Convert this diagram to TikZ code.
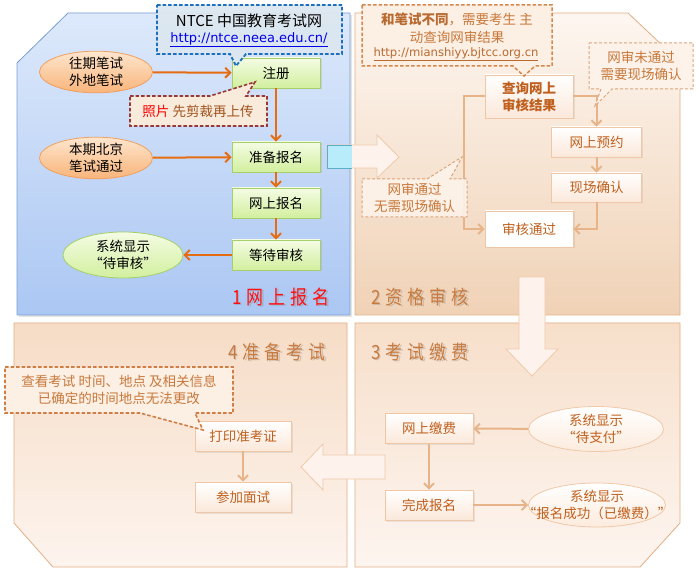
\documentclass[tikz,border=0pt]{standalone}
\usepackage{fontspec}
\setmainfont{Noto Sans CJK SC}
\newfontfamily\urlfont{DejaVu Sans}
\usetikzlibrary{arrows.meta,shapes.geometric,shadows}
\newcommand\hxcol[1]{\definecolor{Hex#1}{HTML}{#1}}
\hxcol{FBE8DA}\hxcol{EFC7A6}\hxcol{FEE6CE}\hxcol{F9B47A}\hxcol{F0A060}\hxcol{FCEBDD}
\hxcol{EFC8A8}\hxcol{FDF3EC}\hxcol{F0C8A8}\hxcol{DDE9FB}\hxcol{ABC7F3}\hxcol{FDF6F0}
\hxcol{F0D2B6}\hxcol{F7DFCA}\hxcol{FDF5F0}\hxcol{F6DCC6}\hxcol{FDF4EE}\hxcol{B8ECFA}
\hxcol{5AB0C8}\hxcol{DCE7F0}\hxcol{1F6FBF}\hxcol{0000EE}\hxcol{F9EBDC}\hxcol{983838}
\hxcol{A0521E}\hxcol{FCEFE4}\hxcol{D5874C}\hxcol{B86A30}\hxcol{FDF3EA}\hxcol{DCA47A}
\hxcol{CF7F45}\hxcol{FF1010}
\definecolor{pOne}{HTML}{7A9ED4}
\definecolor{pPeach}{HTML}{E2AE84}
\definecolor{gTop}{HTML}{F4FCE4}
\definecolor{gBot}{HTML}{D2EF9E}
\definecolor{gLine}{HTML}{A6CF6A}
\definecolor{oArrow}{HTML}{E66C12}
\definecolor{pConn}{HTML}{E7B48A}
\definecolor{pText}{HTML}{C0601E}
\definecolor{cText}{HTML}{C8783A}
\definecolor{tText}{HTML}{C97B3F}
\newcommand\ttl[5]{\scalebox{1}[1.15]{#1\hspace{5pt}#2\hspace{5pt}#3\hspace{5pt}#4\hspace{5pt}#5}}
\begin{document}
\begin{tikzpicture}[x=1pt,y=-1pt,
  every node/.style={font=\fontsize{13.5}{17}\selectfont, align=center, inner sep=0pt},
  greenbox/.style={rectangle, minimum width=88pt, minimum height=30pt, top color=gTop, bottom color=gBot, draw=gLine, line width=0.8pt, drop shadow={opacity=0.18,shadow xshift=1.5pt,shadow yshift=-1.5pt}},
  peachbox/.style={rectangle, minimum width=88pt, minimum height=30pt, top color=white, bottom color=HexFBE8DA, draw=HexEFC7A6, line width=0.8pt, text=pText, drop shadow={opacity=0.15,shadow xshift=1.5pt,shadow yshift=-1.5pt}},
  orell/.style={ellipse, minimum width=113pt, minimum height=40pt, top color=HexFEE6CE, bottom color=HexF9B47A, draw=HexF0A060, line width=0.8pt},
  grell/.style={ellipse, minimum width=120pt, minimum height=46pt, top color=gTop, bottom color=gBot, draw=gLine, line width=0.8pt},
  peell/.style={ellipse, minimum width=135pt, minimum height=45pt, top color=white, bottom color=HexFCEBDD, draw=HexEFC8A8, line width=0.8pt, text=pText},
  oconn/.style={draw=oArrow, line width=2pt, -{Straight Barb[length=5pt,width=10pt]}},
  pconn/.style={draw=pConn, line width=2pt, -{Straight Barb[length=5pt,width=10pt]}},
  title/.style={font=\fontsize{17}{20}\selectfont},
  bigarrow/.style={fill=HexFDF3EC, draw=HexF0C8A8, line width=0.8pt},
]
\useasboundingbox (0,0) rectangle (699,577);
\fill[white] (0,0) rectangle (699,577);

% panels
\path[drop shadow={opacity=0.2,shadow xshift=2pt,shadow yshift=-2pt}, top color=HexDDE9FB, bottom color=HexABC7F3, draw=pOne, line width=0.8pt]
  (17,63) -- (68,13) -- (350,13) -- (350,315) -- (17,315) -- cycle;
\path[top color=HexFDF6F0, bottom color=HexF0D2B6, draw=pPeach, line width=0.8pt]
  (355,13) -- (628,13) -- (680,62) -- (680,315) -- (355,315) -- cycle;
\path[top color=HexF7DFCA, bottom color=HexFDF5F0, draw=pPeach, line width=0.8pt]
  (355,323) -- (680,323) -- (680,523) -- (640,567) -- (355,567) -- cycle;
\path[top color=HexF6DCC6, bottom color=HexFDF4EE, draw=pPeach, line width=0.8pt]
  (14,323) -- (347,323) -- (347,567) -- (53,567) -- (14,523) -- cycle;

% big arrows
\path[bigarrow] (327,145) -- (377,145) -- (377,135) -- (399,157) -- (377,178) -- (377,168) -- (327,168) -- cycle;
\path[fill=HexB8ECFA, draw=Hex5AB0C8, line width=0.8pt] (352,145) -- (327,145) -- (327,168) -- (352,168);
\path[bigarrow] (519,277) -- (545,277) -- (545,349) -- (558,349) -- (532,376) -- (506,349) -- (519,349) -- cycle;
\path[bigarrow] (385,455) -- (385,479) -- (323,479) -- (323,490) -- (301,467) -- (323,444) -- (323,455) -- cycle;

% panel 1 nodes
\node[greenbox] (reg) at (276,73) {注册};
\node[greenbox] (prep) at (276,157) {准备报名};
\node[greenbox] (onl) at (276,203) {网上报名};
\node[greenbox] (wait) at (276,255) {等待审核};
\node[orell] (past) at (96,72) {往期笔试\\外地笔试};
\node[orell] (cur) at (96,158) {本期北京\\笔试通过};
\node[grell] (pend) at (123,255) {系统显示\\“待审核”};
\draw[oconn] (past) -- (reg);
\draw[oconn] (cur) -- (prep);
\draw[oconn] (reg) -- (prep);
\draw[oconn] (prep) -- (onl);
\draw[oconn] (onl) -- (wait);
\draw[oconn] (wait) -- (pend);

% panel 2 nodes
\node[peachbox, minimum height=43pt, font=\fontsize{13.5}{17}\selectfont\bfseries] (qry) at (529,96.5) {查询网上\\审核结果};
\node[peachbox, minimum width=90pt] (appt) at (596.5,142) {网上预约};
\node[peachbox, minimum width=90pt, minimum height=29pt] (site) at (596.5,187.5) {现场确认};
\node[peachbox, minimum height=36pt, top color=white, bottom color=white] (pass) at (529,229) {审核通过};
\coordinate (qL) at (464,96.5);
\draw[pconn] (qry.west) -- (qL) |- (pass.west);
\draw[pconn] (qry.east) -| (appt.north);
\draw[pconn] (appt) -- (site);
\draw[pconn] (site.south) |- (pass.east);

% panel 3 nodes
\node[peachbox] (pay) at (429,428.5) {网上缴费};
\node[peachbox] (done) at (429,505) {完成报名};
\node[peell] (tpay) at (596,429) {系统显示\\“待支付”};
\node[peell, minimum width=137pt, minimum height=44pt] (ok) at (597,505) {};
\node[text=pText] (oktext) at (ok.center) {系统显示\\“报名成功（已缴费）”};
\draw[pconn] (tpay) -- (pay);
\draw[pconn] (pay) -- (done);
\draw[pconn] (done) -- (ok);

% panel 4 nodes
\node[peachbox, minimum width=96pt] (prt) at (243,436) {打印准考证};
\node[peachbox, minimum width=96pt] (iv) at (243,497) {参加面试};
\draw[pconn] (prt) -- (iv);

% callouts
\path[fill=HexDCE7F0, fill opacity=0.95, draw=Hex1F6FBF, line width=1.8pt, dash pattern=on 3.5pt off 2pt]
  (157,5) -- (342,5) -- (342,54) -- (246,54) -- (236,66) -- (230,54) -- (157,54) -- cycle;
\node (ntce) at (249,21) {\fontsize{15}{17}\selectfont NTCE 中国教育考试网};
\node[text=Hex0000EE] (ntceurl) at (249,40) {\urlfont\fontsize{13}{15}\selectfont\underline{http://ntce.neea.edu.cn/}};

\path[fill=HexF9EBDC, draw=Hex983838, line width=1.6pt, dash pattern=on 3.5pt off 2pt]
  (130,96) -- (210,96) -- (255,82) -- (246,96) -- (267,96) -- (267,126) -- (130,126) -- cycle;
\node[text=HexA0521E] (photo) at (198,111) {\textcolor{red}{照片} 先剪裁再上传};

\path[fill=HexFCEFE4, draw=HexD5874C, line width=1.5pt, dash pattern=on 3.5pt off 2pt]
  (362,5) -- (552,5) -- (552,66) -- (535,66) -- (524,76) -- (513,66) -- (362,66) -- cycle;
\node[text=cText] (diff1) at (457,19) {\textbf{\textcolor{HexB86A30}{和笔试不同}}，需要考生 主};
\node[text=cText] (diff2) at (457,37) {动查询网审结果};
\node[text=HexB86A30] (diff3) at (456,54) {\urlfont\fontsize{11.6}{14}\selectfont\underline{http://mianshiyy.bjtcc.org.cn}};

\path[fill=HexFDF3EA, fill opacity=0.95, draw=HexDCA47A, line width=1pt, dash pattern=on 3pt off 2pt]
  (589,43) -- (693,43) -- (693,89) -- (612,89) -- (595,106) -- (601,89) -- (589,89) -- cycle;
\node[text=cText] (fail) at (641,66) {网审未通过\\需要现场确认};

\path[fill=HexFDF3EA, fill opacity=0.9, draw=HexDCA47A, line width=1pt, dash pattern=on 3pt off 2pt]
  (362,179) -- (427,179) -- (462,157) -- (450,179) -- (467,179) -- (467,217) -- (362,217) -- cycle;
\node[text=cText] (okmsg) at (414.5,198) {网审通过\\无需现场确认};

\path[fill=HexFCEFE4, draw=HexCF7F45, line width=1.6pt, dash pattern=on 3.5pt off 2pt]
  (5,367) -- (233,367) -- (233,413) -- (195,413) -- (203,430) -- (140,413) -- (5,413) -- cycle;
\node[text=cText] (look) at (119,390) {查看考试 时间、地点 及相关信息\\已确定的时间地点无法更改};

% titles
\node[title, text=gray, opacity=0.35] at (282.5,298.5) {\ttl{1}{网}{上}{报}{名}};
\node[title, text=HexFF1010] (t1) at (281,297) {\ttl{1}{网}{上}{报}{名}};
\node[title, text=gray, opacity=0.3] at (421.5,298.5) {\ttl{2}{资}{格}{审}{核}};
\node[title, text=tText] (t2) at (420,297) {\ttl{2}{资}{格}{审}{核}};
\node[title, text=gray, opacity=0.3] at (421.5,353.5) {\ttl{3}{考}{试}{缴}{费}};
\node[title, text=tText] (t3) at (420,352) {\ttl{3}{考}{试}{缴}{费}};
\node[title, text=gray, opacity=0.3] at (278.5,353.5) {\ttl{4}{准}{备}{考}{试}};
\node[title, text=tText] (t4) at (277,352) {\ttl{4}{准}{备}{考}{试}};
\end{tikzpicture}
\end{document}
